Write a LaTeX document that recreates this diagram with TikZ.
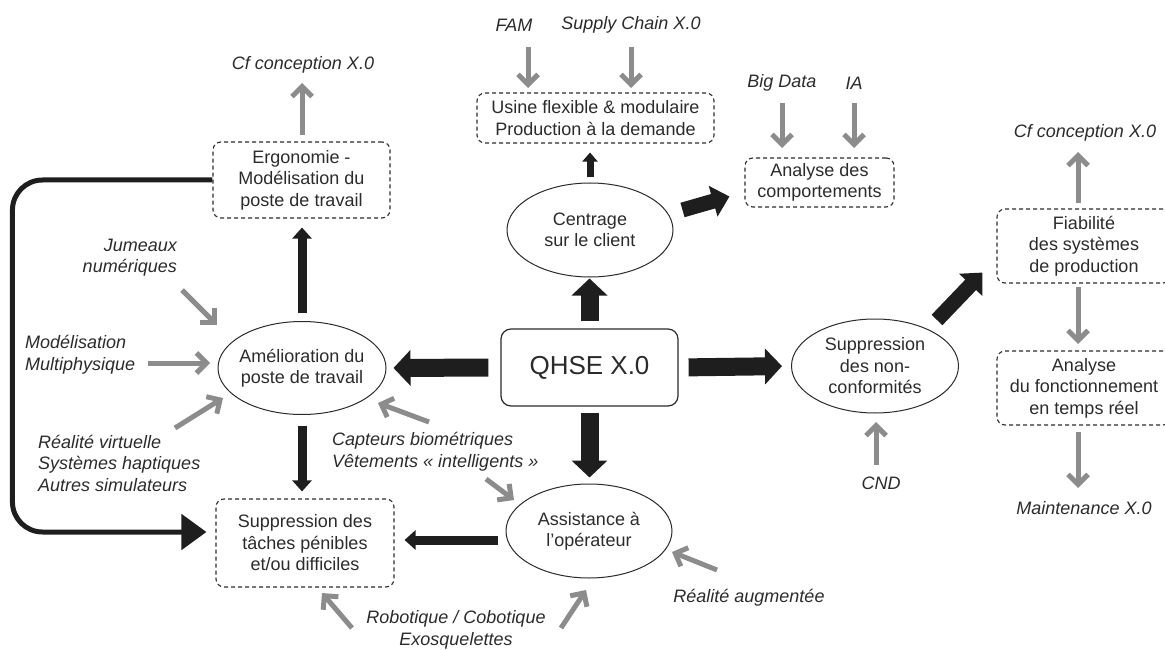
\documentclass[tikz,border=0pt]{standalone}
\usepackage{fontspec}
\setmainfont{Liberation Sans}
\usetikzlibrary{arrows.meta,shapes.geometric,calc}
\definecolor{txt}{HTML}{2B2B2B}
\definecolor{gr}{HTML}{8C8C8C}
\definecolor{blk}{HTML}{1E1E1E}
\begin{document}
\begin{tikzpicture}[x=1pt,y=-1pt,
  every node/.style={text=txt, font=\fontsize{18}{21.5}\selectfont, align=center, inner sep=0pt},
  dbox/.style={draw=txt, dash pattern=on 4pt off 3pt, line width=1.1pt, rounded corners=8pt},
  ell/.style={ellipse, draw=txt, line width=1pt},
  lab/.style={font=\fontsize{18}{21.5}\selectfont\itshape},
  garr/.style={draw=gr, line width=5pt, -{Straight Barb[length=10pt,width=20pt]}},
  bigarr/.style={draw=blk, line width=18pt, -{Triangle[length=17pt,width=35pt]}},
  diagarr/.style={draw=blk, line width=15pt, -{Triangle[length=17pt,width=31pt]}},
  medarr/.style={draw=blk, line width=9pt, -{Triangle[length=11pt,width=19pt]}},
  smallarr/.style={draw=blk, line width=7pt, -{Triangle[length=9pt,width=15pt]}},
  conn/.style={draw=blk, line width=5pt, rounded corners=30pt, -{Triangle[length=25pt,width=35pt]}}
]
\useasboundingbox (0,0) rectangle (1165,650);
\clip (0,0) rectangle (1165,650);

% boxes
\node[dbox, minimum width=177, minimum height=76] (ergo) at (301.5,180) {Ergonomie -\\Modélisation du\\poste de travail};
\node[dbox, minimum width=237, minimum height=50] (usine) at (595.5,118) {Usine flexible \& modulaire\\Production à la demande};
\node[dbox, minimum width=149, minimum height=49] (analyse) at (819.5,182.5) {Analyse des\\comportements};
\node[dbox, minimum width=174, minimum height=74] (fiab) at (1084,246) {Fiabilité\\des systèmes\\de production};
\node[dbox, minimum width=174, minimum height=74] (anafonc) at (1084,388) {Analyse\\du fonctionnement\\en temps réel};
\node[dbox, minimum width=178, minimum height=88] (suptach) at (305,543) {Suppression des\\tâches pénibles\\et/ou difficiles};
\node[draw=txt, line width=1.2pt, rounded corners=10pt, minimum width=177, minimum height=77, font=\fontsize{26}{30}\selectfont] (qhse) at (589.5,367.5) {QHSE X.0};

% ellipses
\node[ell, minimum width=168, minimum height=93, label={[align=center]center:Amélioration du\\poste de travail}] (amel) at (302,368) {};
\node[ell, minimum width=167, minimum height=94, label={[align=center]center:Suppression\\des non-\\conformités}] (supnc) at (875,366) {};
\node[ell, minimum width=166, minimum height=94, label={[align=center]center:Centrage\\sur le client}] (centr) at (590,230) {};
\node[ell, minimum width=166, minimum height=94, label={[align=center]center:Assistance à\\l'opérateur}] (assist) at (589,531) {};

% italic labels
\node[lab] (cf1) at (303,65) {Cf conception X.0};
\node[lab] (fam) at (514,25) {FAM};
\node[lab] (supply) at (631,25) {Supply Chain X.0};
\node[lab] (bigdata) at (782,83) {Big Data};
\node[lab] (ia) at (854,83) {IA};
\node[lab] (cf2) at (1085,133) {Cf conception X.0};
\node[lab] (maint) at (1084,508) {Maintenance X.0};
\node[lab] (cnd) at (881,483) {CND};
\node[lab, align=right, anchor=east] (jum) at (177,257.5) {Jumeaux\\numériques};
\node[lab, align=left, anchor=west] (modmul) at (25,354.5) {Modélisation\\Multiphysique};
\node[lab, align=left, anchor=west] (realv) at (38,463) {Réalité virtuelle\\Systèmes haptiques\\Autres simulateurs};
\node[lab, align=left, anchor=west] (capt) at (332,451.5) {Capteurs biométriques\\Vêtements « intelligents »};
\node[lab] (realaug) at (749,598) {Réalité augmentée};
\node[lab] (robot) at (456,630) {Robotique / Cobotique\\Exosquelettes};

% black arrows
\draw[bigarr, shorten <=12pt, shorten >=7pt] (qhse.west) -- (amel.east);
\draw[bigarr, shorten <=10pt, shorten >=9pt] (qhse.east) -- (supnc.west);
\draw[bigarr, shorten <=7pt, shorten >=1pt] (qhse.north) -- (qhse.north |- centr.south);
\draw[bigarr, shorten <=6pt, shorten >=6pt] (qhse.south) -- (qhse.south |- assist.north);
\draw[diagarr] ($(centr.east)+(9,-20)$) -- ($(analyse.west)+(-15,14)$);
\draw[diagarr] ($(supnc.center)+(62,-46)$) -- ($(fiab.south west)+(-14,-11)$);
\draw[smallarr, shorten <=5pt, shorten >=9pt] (centr.north) -- (centr.north |- usine.south);
\draw[medarr, shorten <=8.5pt, shorten >=9pt] (amel.north) -- (amel.north |- ergo.south);
\draw[medarr, shorten <=10.5pt, shorten >=7pt] (amel.south) -- (amel.south |- suptach.north);
\draw[medarr] ($(assist.west)+(-8,9)$) -- ($(suptach.east)+(10,-3)$);
\draw[conn] (ergo.west) -- ++(-200,0) |- ($(suptach.west)+(-9,-11)$);

% gray arrow end points
\coordinate (g1a) at (302,135);  \coordinate (g1b) at (302,83);
\coordinate (g2a) at (528,47);   \coordinate (g2b) at (528,88);
\coordinate (g3a) at (631,47);   \coordinate (g3b) at (631,88);
\coordinate (g4a) at (782,103);  \coordinate (g4b) at (782,148);
\coordinate (g5a) at (854,103);  \coordinate (g5b) at (854,148);
\coordinate (g6a) at (1078,203); \coordinate (g6b) at (1078,152);
\coordinate (g7a) at (1078,287); \coordinate (g7b) at (1078,344);
\coordinate (g8a) at (1078,432); \coordinate (g8b) at (1078,488);
\coordinate (g9a) at (876,465);  \coordinate (g9b) at (876,422);
\coordinate (g10a) at (182,290); \coordinate (g10b) at (217,325);
\coordinate (g11a) at (148,363); \coordinate (g11b) at (210,363);
\coordinate (g12a) at (175,428); \coordinate (g12b) at (223,398);
\coordinate (g13a) at (429,422); \coordinate (g13b) at (378,403);
\coordinate (g14a) at (486,479); \coordinate (g14b) at (514,500);
\coordinate (g15a) at (717,570); \coordinate (g15b) at (672,552);
\coordinate (g16a) at (352,628); \coordinate (g16b) at (322,593);
\coordinate (g17a) at (561,628); \coordinate (g17b) at (586,590);

\foreach \i in {1,...,17} {\draw[garr] (g\i a) -- (g\i b);}
\end{tikzpicture}
\end{document}
